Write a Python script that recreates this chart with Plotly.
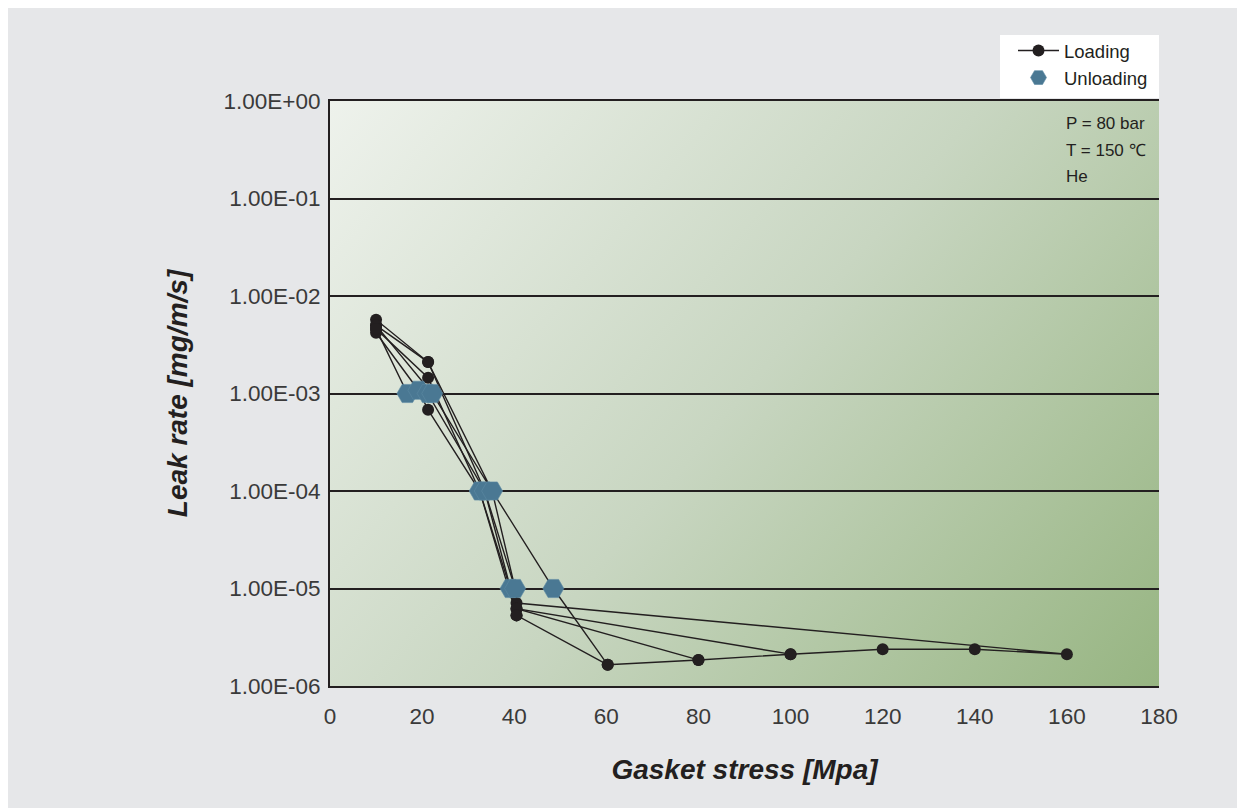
import base64
import plotly.graph_objects as go

# ---------------- data ----------------
stress_loading = [10, 10, 10, 10, 21.3, 21.3, 21.3, 40.5, 40.5, 40.5, 60.3, 80, 100, 120, 140, 160]
leak_loading = [5.7e-3, 5.0e-3, 4.6e-3, 4.2e-3, 2.1e-3, 1.45e-3, 6.8e-4,
                7.1e-6, 6.2e-6, 5.3e-6, 1.65e-6, 1.85e-6, 2.12e-6, 2.38e-6, 2.38e-6, 2.12e-6]

stress_unloading = [16.8, 19.2, 21.2, 22.2, 32.5, 33.6, 35.2, 39.2, 40.2, 48.5]
leak_unloading = [1e-3, 1.08e-3, 1e-3, 1e-3, 1e-4, 1e-4, 1e-4, 1e-5, 1e-5, 1e-5]

# order in which the measured points are joined (L = loading point, U = unloading point)
measurement_order = [
    "L0", "L4", "U6", "U8", "L7", "L15", "L14", "L13", "L12", "L11", "L10", "U9", "U6", "U3", "L1", None,
    "L1", "L4", "U5", "U8", "L8", "L12", None,
    "L2", "L5", "U4", "U7", "L8", "L11", None,
    "L3", "U1", "L6", "U4", "L9", "L10", None,
    "L2", "U0", "U2", "U5", "U7", "L9",
]

y_tick_values = [1e-6, 1e-5, 1e-4, 1e-3, 1e-2, 1e-1, 1e0]
y_tick_labels = ["1.00E-06", "1.00E-05", "1.00E-04", "1.00E-03", "1.00E-02", "1.00E-01", "1.00E+00"]
x_tick_values = [0, 20, 40, 60, 80, 100, 120, 140, 160, 180]

conditions = ["P = 80 bar", "T = 150 \u2103", "He"]


def point(label):
    idx = int(label[1:])
    if label[0] == "L":
        return stress_loading[idx], leak_loading[idx]
    return stress_unloading[idx], leak_unloading[idx]


path_x, path_y = [], []
for lab in measurement_order:
    if lab is None:
        path_x.append(None)
        path_y.append(None)
    else:
        px, py = point(lab)
        path_x.append(px)
        path_y.append(py)

# ---------------- styling ----------------
INK = "#231f20"
HEX = "#4a7893"
TICK_FONT = dict(family="Liberation Sans, Arial, sans-serif", size=22.5, color="#3a3a3a")
TITLE_FONT = dict(family="Liberation Sans, Arial, sans-serif",
                  size=28, color=INK, weight="bold", style="italic")
TEXT_FONT = dict(family="Liberation Sans, Arial, sans-serif", size=17, color=INK)

fig = go.Figure()

fig.add_trace(go.Scatter(
    x=path_x, y=path_y, name="Loading", mode="lines+markers",
    line=dict(color=INK, width=1.4),
    marker=dict(color=INK, size=12, symbol="circle"),
    connectgaps=False,
))
fig.add_trace(go.Scatter(
    x=stress_unloading, y=leak_unloading, name="Unloading", mode="markers",
    marker=dict(color=HEX, size=21, symbol="hexagon2", line=dict(color="#5d8aa3", width=0.6)),
))

# gradient plot background (SVG data URI)
svg = ('<svg xmlns="http://www.w3.org/2000/svg" width="829" height="585" viewBox="0 0 829 585" '
       'preserveAspectRatio="none"><defs><linearGradient id="g" x1="0" y1="0" x2="1.18" y2="0.69">'
       '<stop offset="0" stop-color="#eef2ec"/><stop offset="0.5" stop-color="#c8d6c1"/>'
       '<stop offset="1" stop-color="#97b582"/></linearGradient></defs>'
       '<rect width="829" height="585" fill="url(#g)"/></svg>')
svg_uri = "data:image/svg+xml;base64," + base64.b64encode(svg.encode()).decode()

OFF = 8  # page margin of the html body
W, H = 1245 - OFF, 808 - OFF
L, R, T, B = 330 - OFF, 86, 101 - OFF, 122
pw, ph = W - L - R, H - T - B


def pxx(sx):
    return (sx - OFF - L) / pw


def pyy(sy):
    return (H - B - (sy - OFF)) / ph


fig.update_layout(
    width=W, height=H,
    margin=dict(l=L, r=R, t=T, b=B, pad=0),
    paper_bgcolor="#e6e7e9",
    plot_bgcolor="rgba(0,0,0,0)",
    images=[dict(source=svg_uri, xref="paper", yref="paper", x=0, y=1, sizex=1, sizey=1,
                 xanchor="left", yanchor="top", sizing="stretch", layer="below")],
    shapes=[
        dict(type="rect", xref="paper", yref="paper", x0=pxx(1000), x1=pxx(1159), y0=pyy(98), y1=pyy(35),
             fillcolor="white", line=dict(width=0), layer="above"),
    ],
    showlegend=True,
    legend=dict(x=pxx(1013), xanchor="left", y=pyy(32), yanchor="top", bgcolor="rgba(0,0,0,0)",
                borderwidth=0, font=dict(family="Liberation Sans, Arial, sans-serif", size=18.5, color=INK),
                itemwidth=41, tracegroupgap=0),
    xaxis=dict(
        range=[0, 180], tickvals=x_tick_values, showgrid=False, zeroline=False,
        showline=True, linecolor=INK, linewidth=2, mirror=True, ticks="",
        tickfont=TICK_FONT, ticklabelstandoff=9,
        title=dict(text="Gasket stress [Mpa]", font=TITLE_FONT, standoff=31),
    ),
    yaxis=dict(
        type="log", range=[-6, 0], tickvals=y_tick_values, ticktext=y_tick_labels,
        showgrid=True, gridcolor=INK, gridwidth=2, zeroline=False,
        showline=True, linecolor=INK, linewidth=2, ticks="",
        tickfont=TICK_FONT, ticklabelstandoff=3,
        title=dict(text="Leak rate [mg/m/s]", font=TITLE_FONT, standoff=28),
    ),
)

for i, txt in enumerate(conditions):
    fig.add_annotation(text=txt, xref="paper", yref="paper", x=pxx(1064), y=pyy(124 + 26 * i),
                       xanchor="left", yanchor="middle", showarrow=False, font=TEXT_FONT)

fig.write_html("out.html")
